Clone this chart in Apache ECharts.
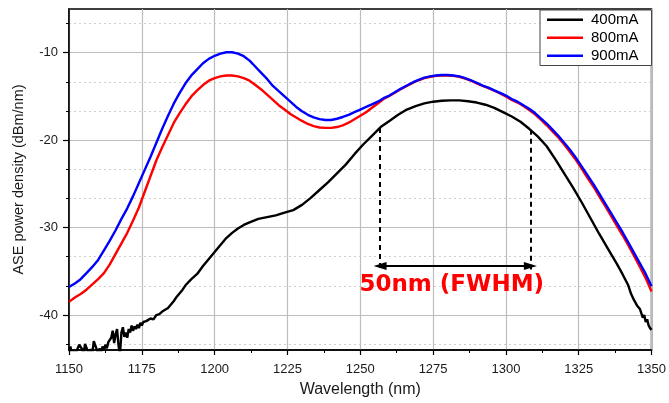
<!DOCTYPE html>
<html>
<head>
<meta charset="utf-8">
<script src="https://cdn.jsdelivr.net/npm/echarts@6/dist/echarts.min.js"></script>
<style>html,body{margin:0;padding:0;background:#fff}#c{width:669px;height:403px}</style>
</head>
<body>
<div id="c"></div>
<script>
// ---- data ----
const seriesNames = ['400mA', '800mA', '900mA'];

const wl400 = [1150.0,1150.5,1151.0,1151.5,1152.0,1152.5,1153.0,1153.5,1154.0,1154.5,1155.0,1155.5,1156.0,1156.5,1157.0,1157.5,1158.0,1158.5,1159.0,1159.5,1160.0,1160.5,1161.0,1161.5,1162.0,1162.5,1163.0,1163.5,1164.0,1164.5,1165.0,1165.5,1166.0,1166.5,1167.0,1167.5,1168.0,1168.5,1169.0,1169.5,1170.0,1170.5,1171.0,1171.5,1172.0,1172.5,1173.0,1173.5,1174.0,1174.5,1175.0,1175.5,1176.0,1176.5,1177.0,1178.0,1179.0,1180.0,1181.0,1182.0,1183.0,1184.0,1185.0,1186.0,1187.0,1188.0,1189.0,1190.0,1192.0,1194.0,1196.0,1198.0,1200.0,1202.0,1204.0,1206.0,1208.0,1210.0,1212.0,1215.0,1218.0,1221.0,1224.0,1227.0,1230.0,1233.0,1236.0,1239.0,1242.0,1245.0,1248.0,1251.0,1254.0,1257.0,1260.0,1263.0,1266.0,1269.0,1272.0,1275.0,1278.0,1281.0,1284.0,1287.0,1290.0,1293.0,1296.0,1299.0,1302.0,1305.0,1308.0,1311.0,1314.0,1317.0,1320.0,1323.0,1326.0,1329.0,1332.0,1335.0,1338.0,1340.0,1342.0,1343.0,1344.0,1345.0,1346.0,1347.0,1347.5,1348.0,1348.5,1349.0,1349.5,1350.0];
const p400 = [-44.5,-43.6,-44.6,-44.0,-44.6,-44.4,-43.8,-43.4,-43.3,-43.9,-44.5,-43.3,-43.5,-44.2,-44.6,-43.9,-44.4,-43.0,-42.8,-43.9,-44.6,-43.8,-44.4,-43.6,-44.0,-43.4,-43.8,-43.1,-43.3,-42.6,-41.8,-43.2,-42.2,-41.6,-43.5,-44.5,-42.0,-41.4,-42.5,-42.0,-42.6,-41.6,-42.0,-41.2,-41.8,-41.3,-41.6,-41.1,-41.5,-40.9,-41.2,-40.8,-41.0,-40.7,-40.9,-40.4,-40.5,-40.0,-39.9,-39.6,-39.4,-39.2,-38.8,-38.4,-37.9,-37.5,-37.1,-36.6,-35.9,-35.3,-34.4,-33.6,-32.8,-32.0,-31.2,-30.6,-30.1,-29.7,-29.4,-29.0,-28.8,-28.6,-28.3,-28.0,-27.4,-26.6,-25.7,-24.8,-23.8,-22.8,-21.6,-20.5,-19.5,-18.5,-17.8,-17.1,-16.5,-16.1,-15.8,-15.6,-15.5,-15.45,-15.45,-15.55,-15.7,-15.95,-16.3,-16.8,-17.3,-17.9,-18.7,-19.6,-20.7,-22.2,-23.8,-25.4,-27.1,-28.9,-30.7,-32.4,-34.1,-35.3,-36.6,-37.6,-38.3,-38.9,-39.3,-40.3,-40.0,-40.8,-40.5,-41.2,-41.5,-41.7];

const wlHi = [1150,1152,1154,1156,1158,1160,1162,1164,1166,1168,1170,1172,1174,1176,1178,1180,1182,1184,1186,1188,1190,1192,1194,1196,1198,1200,1202,1204,1206,1208,1210,1212,1214,1216,1218,1220,1222,1224,1226,1228,1230,1232,1234,1236,1238,1240,1242,1244,1246,1248,1250,1252,1254,1256,1258,1260,1262,1264,1266,1268,1270,1272,1274,1276,1278,1280,1282,1284,1286,1288,1290,1292,1294,1296,1298,1300,1302,1304,1306,1308,1310,1312,1314,1316,1318,1320,1322,1324,1326,1328,1330,1332,1334,1336,1338,1340,1342,1344,1346,1348,1350];
const p800 = [-38.5,-38.0,-37.6,-37.1,-36.5,-35.9,-35.2,-34.2,-33.0,-31.8,-30.6,-29.2,-27.7,-25.9,-24.1,-22.3,-20.8,-19.4,-18.0,-16.9,-15.9,-15.0,-14.3,-13.7,-13.2,-12.9,-12.7,-12.6,-12.6,-12.7,-12.9,-13.2,-13.7,-14.2,-14.8,-15.4,-16.0,-16.5,-17.0,-17.4,-17.8,-18.15,-18.4,-18.55,-18.6,-18.6,-18.5,-18.3,-18.0,-17.6,-17.2,-16.8,-16.3,-15.8,-15.3,-14.95,-14.55,-14.15,-13.8,-13.45,-13.15,-12.9,-12.75,-12.65,-12.6,-12.6,-12.65,-12.75,-12.95,-13.2,-13.5,-13.8,-14.05,-14.35,-14.65,-15.0,-15.4,-15.7,-16.1,-16.55,-17.05,-17.65,-18.3,-19.0,-19.7,-20.5,-21.35,-22.25,-23.25,-24.3,-25.3,-26.4,-27.5,-28.6,-29.75,-30.85,-32.0,-33.25,-34.5,-35.8,-37.3];
const p900 = [-36.8,-36.4,-35.9,-35.2,-34.5,-33.7,-32.6,-31.5,-30.3,-29.0,-27.8,-26.4,-24.9,-23.4,-21.9,-20.3,-18.7,-17.2,-15.8,-14.6,-13.5,-12.6,-11.9,-11.2,-10.7,-10.35,-10.1,-9.95,-9.95,-10.1,-10.4,-10.9,-11.6,-12.3,-13.0,-13.8,-14.4,-15.0,-15.6,-16.2,-16.7,-17.1,-17.4,-17.6,-17.7,-17.7,-17.55,-17.35,-17.1,-16.8,-16.5,-16.2,-15.9,-15.6,-15.2,-14.9,-14.5,-14.1,-13.75,-13.4,-13.1,-12.85,-12.7,-12.6,-12.55,-12.55,-12.6,-12.7,-12.9,-13.15,-13.45,-13.75,-14.0,-14.3,-14.6,-14.9,-15.3,-15.6,-16.0,-16.4,-16.9,-17.5,-18.1,-18.8,-19.5,-20.3,-21.1,-22.0,-23.0,-24.0,-25.0,-26.1,-27.2,-28.3,-29.4,-30.5,-31.7,-32.9,-34.1,-35.3,-36.7];

const xTicks = [1150,1175,1200,1225,1250,1275,1300,1325,1350];
const yMajorTicks = [-40,-30,-20,-10];
const yMinorTicks = [-43.333,-36.667,-33.333,-26.667,-23.333,-16.667,-13.333,-6.667];

// FWHM annotation (data units)
const fwhmX = [1256.8, 1308.4];
const fwhmTopY = [-18.6, -18.8];
const fwhmArrowY = -34.4;
const fwhmDashBottomY = -34.8;
const fwhmLabel = '50nm (FWHM)';
const fwhmLabelPos = [1281.4, -36.6];

// ---- chart ----
const FONT = '"Liberation Sans", Arial, sans-serif';
const colors = ['#000000', '#ff0000', '#0000ff'];
const chart = echarts.init(document.getElementById('c'), null, {renderer: 'canvas'});

function pairs(xs, ys) { return xs.map((x, i) => [x, ys[i]]); }

const option = {
  animation: false,
  backgroundColor: '#fff',
  grid: {left: 69, right: 14, top: 9, bottom: 52, show: true, borderColor: '#000', borderWidth: 1.5, backgroundColor: 'transparent'},
  legend: {
    data: seriesNames.map((n, i) => ({name: n, icon: 'rect', itemStyle: {color: colors[i]}})),
    orient: 'vertical',
    left: 540, top: 10,
    padding: [2, 13, 2, 7],
    itemGap: 2.5,
    itemWidth: 36, itemHeight: 2.5,
    backgroundColor: '#fff',
    borderColor: '#444', borderWidth: 1, borderRadius: 0,
    textStyle: {fontFamily: FONT, fontSize: 15, color: '#000', padding: [0, 0, 0, 3], lineHeight: 15.5}
  },
  xAxis: {
    type: 'value', min: 1150, max: 1350, interval: 25,
    name: 'Wavelength (nm)', nameLocation: 'middle', nameGap: 32,
    nameTextStyle: {fontFamily: FONT, fontSize: 16, color: '#1a1a1a'},
    axisLine: {show: true, onZero: false, lineStyle: {color: '#000', width: 1.5}},
    axisTick: {show: true, length: 5, lineStyle: {color: '#000', width: 1.2}},
    minorTick: {show: true, splitNumber: 2, length: 3, lineStyle: {color: '#000', width: 1}},
    axisLabel: {fontFamily: FONT, fontSize: 13, color: '#1a1a1a', margin: 13,
      customValues: xTicks, formatter: v => String(v)},
    splitLine: {show: true, lineStyle: {color: '#bdbdbd', width: 1.2}}
  },
  yAxis: [{
    type: 'value', min: -44, max: -5,
    name: 'ASE power density (dBm/nm)', nameLocation: 'middle', nameGap: 43,
    nameTextStyle: {fontFamily: FONT, fontSize: 14.5, color: '#1a1a1a'},
    axisLine: {show: true, onZero: false, lineStyle: {color: '#000', width: 1.5}},
    axisTick: {show: true, length: 6, customValues: yMajorTicks, lineStyle: {color: '#000', width: 1.2}},
    axisLabel: {fontFamily: FONT, fontSize: 13, color: '#1a1a1a', margin: 11, customValues: yMajorTicks, formatter: v => String(v)},
    splitLine: {show: true, lineStyle: {color: '#bdbdbd', width: 1.2}}
  }, {
    type: 'value', min: -44, max: -5, position: 'left',
    axisLine: {show: false},
    axisTick: {show: true, length: 3, customValues: yMinorTicks, lineStyle: {color: '#000', width: 1}},
    axisLabel: {show: false, customValues: yMinorTicks},
    splitLine: {show: true, lineStyle: {color: '#cfcfcf', width: 1, type: [2, 3]}}
  }],
  series: [
    {
      name: seriesNames[0], type: 'line', symbol: 'none', data: pairs(wl400, p400),
      lineStyle: {color: colors[0], width: 2.4}, itemStyle: {color: colors[0]}, z: 3,
      markLine: {
        silent: true, animation: false, z: 5,
        label: {show: false},
        data: [
          [{coord: [fwhmX[0], fwhmTopY[0]], symbol: 'none'}, {coord: [fwhmX[0], fwhmDashBottomY], symbol: 'none', lineStyle: {color: '#000', width: 2, type: [5, 4]}}],
          [{coord: [fwhmX[1], fwhmTopY[1]], symbol: 'none'}, {coord: [fwhmX[1], fwhmDashBottomY], symbol: 'none', lineStyle: {color: '#000', width: 2, type: [5, 4]}}],
          [{coord: [fwhmX[0], fwhmArrowY], symbol: 'triangle', symbolSize: [8, 13]}, {coord: [fwhmX[1], fwhmArrowY], symbol: 'triangle', symbolSize: [8, 13], lineStyle: {color: '#000', width: 2, type: 'solid'}}]
        ]
      },
      markPoint: {
        silent: true, animation: false,
        symbol: 'rect', symbolSize: 0,
        data: [{coord: fwhmLabelPos, value: fwhmLabel}],
        label: {show: true, position: 'inside', formatter: fwhmLabel,
          fontFamily: '"DejaVu Sans", sans-serif', fontWeight: 'bold', fontSize: 23, color: '#ff0000'}
      }
    },
    {name: seriesNames[1], type: 'line', symbol: 'none', data: pairs(wlHi, p800),
      lineStyle: {color: colors[1], width: 2.4}, itemStyle: {color: colors[1]}, z: 3},
    {name: seriesNames[2], type: 'line', symbol: 'none', data: pairs(wlHi, p900),
      lineStyle: {color: colors[2], width: 2.4}, itemStyle: {color: colors[2]}, z: 3}
  ]
};
chart.setOption(option);
</script>
</body>
</html>
